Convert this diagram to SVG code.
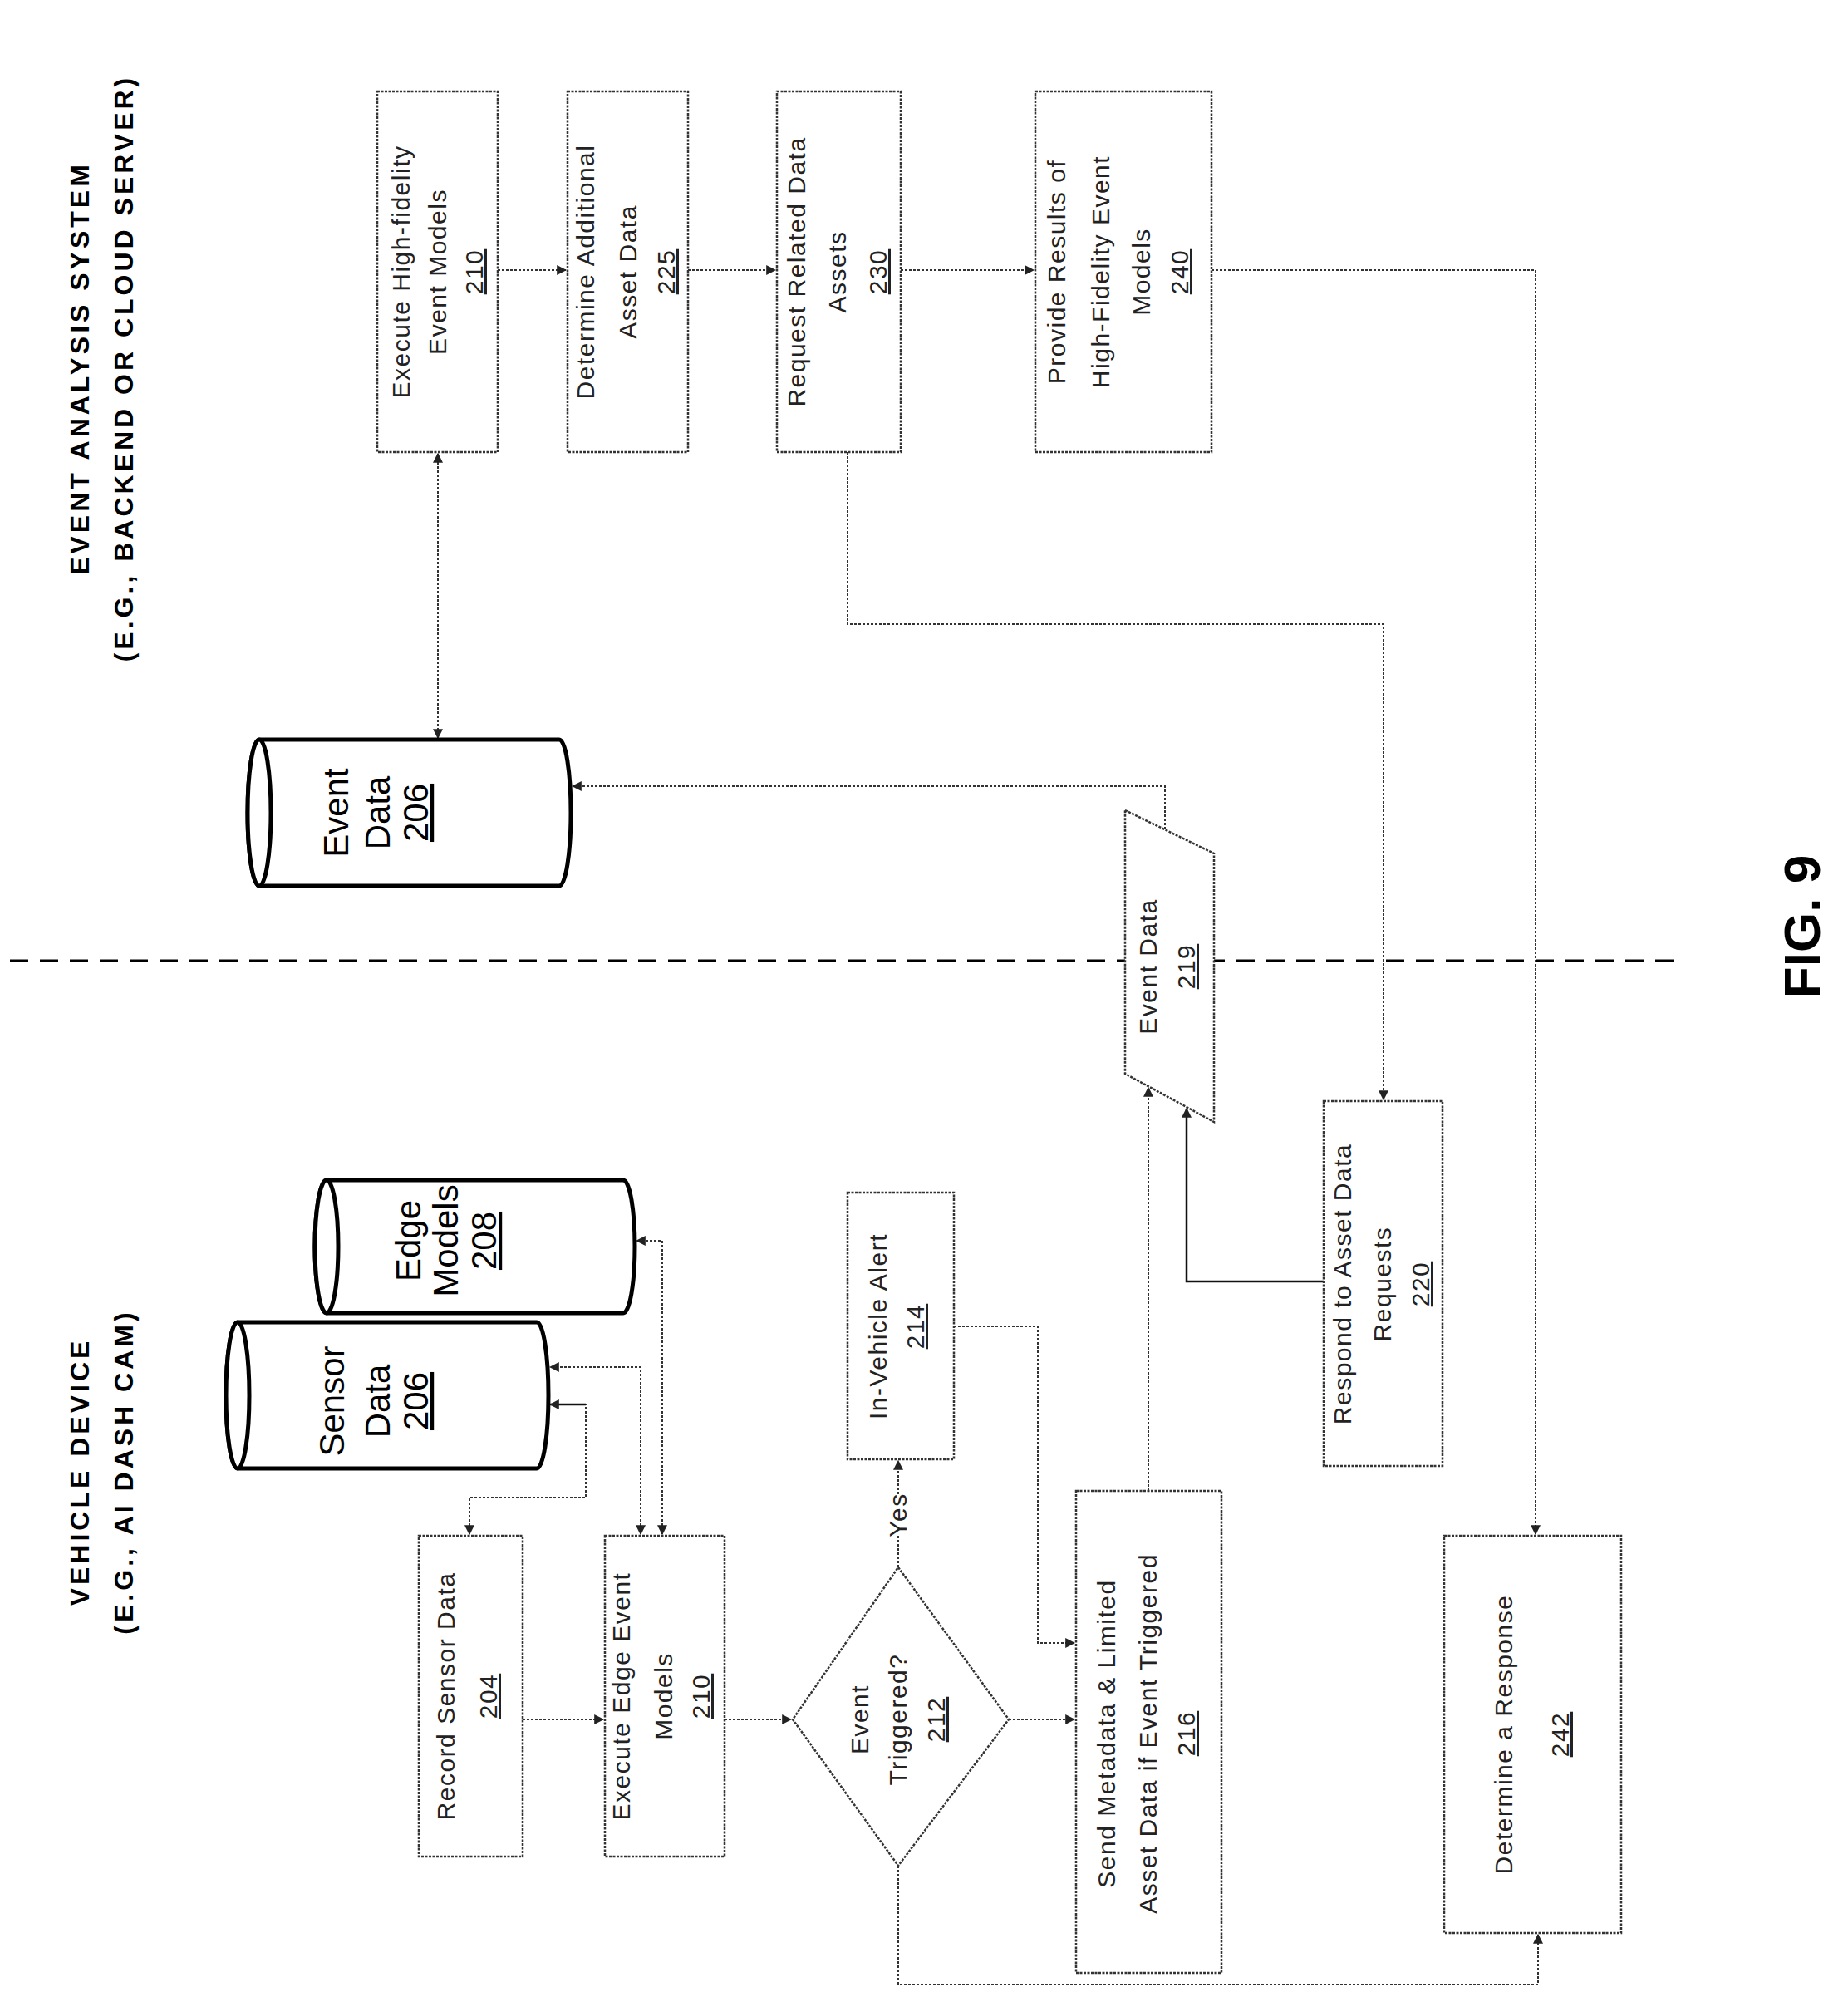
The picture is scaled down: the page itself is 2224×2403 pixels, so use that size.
<svg xmlns="http://www.w3.org/2000/svg" width="2224" height="2403" viewBox="0 0 2224 2403">
<defs>
<style>
.t{font-family:"Liberation Sans",Arial,sans-serif;font-size:30px;letter-spacing:1.5px;text-anchor:middle;fill:#222}
.c{font-family:"Liberation Sans",Arial,sans-serif;font-size:42px;text-anchor:middle;fill:#000}
.h{font-family:"Liberation Sans",Arial,sans-serif;font-weight:bold;font-size:32px;letter-spacing:4px;text-anchor:middle;fill:#000}
.u{text-decoration:underline}
.box{fill:#fff;stroke:#333;stroke-width:2.5;stroke-dasharray:3 1.5}
.cyl{fill:#fff;stroke:#000;stroke-width:5}
.ln{fill:none;stroke:#333;stroke-width:2;stroke-dasharray:3 2}
.sl{fill:none;stroke:#111;stroke-width:2.5}
</style>
<marker id="a" viewBox="0 0 10 10" refX="9" refY="5" markerWidth="12" markerHeight="12" markerUnits="userSpaceOnUse" orient="auto-start-reverse"><path d="M0,0L10,5L0,10Z" fill="#222"/></marker>
</defs>
<rect width="2224" height="2403" fill="#fff"/>
<g id="titles">
<text class="h" transform="translate(107,443) rotate(-90)">EVENT ANALYSIS SYSTEM</text>
<text class="h" transform="translate(160,443) rotate(-90)">(E.G., BACKEND OR CLOUD SERVER)</text>
<text class="h" transform="translate(107,1771) rotate(-90)">VEHICLE DEVICE</text>
<text class="h" transform="translate(160,1771) rotate(-90)">(E.G., AI DASH CAM)</text>
<text font-family="Liberation Sans,Arial,sans-serif" font-weight="bold" font-size="62" text-anchor="middle" transform="translate(2190,1115) rotate(-90)">FIG. 9</text>
</g>
<g id="divider"><line x1="12" y1="1156" x2="2023" y2="1156" stroke="#000" stroke-width="3" stroke-dasharray="22 14"/></g>
<g id="connectors">
<line class="ln" x1="599" y1="325" x2="681" y2="325" marker-end="url(#a)"/>
<line class="ln" x1="828" y1="325" x2="933" y2="325" marker-end="url(#a)"/>
<line class="ln" x1="1084" y1="325" x2="1244" y2="325" marker-end="url(#a)"/>
<line class="ln" x1="527" y1="546" x2="527" y2="888" marker-start="url(#a)" marker-end="url(#a)"/>
<path class="ln" d="M1402,998V946H689" marker-end="url(#a)"/>
<path class="ln" d="M1020,544V751H1665V1323" marker-end="url(#a)"/>
<path class="ln" d="M1458,325H1848V1846" marker-end="url(#a)"/>
<path class="sl" d="M1593,1542H1428V1334" marker-end="url(#a)"/>
<line class="ln" x1="1382" y1="1794" x2="1382" y2="1309" marker-end="url(#a)"/>
<path class="ln" d="M565,1846V1802H705V1690H668" marker-start="url(#a)"/>
<path class="sl" d="M705,1690H662" marker-end="url(#a)"/>
<path class="ln" d="M771,1846V1645H662" marker-start="url(#a)" marker-end="url(#a)"/>
<path class="ln" d="M797,1846V1493H766" marker-start="url(#a)" marker-end="url(#a)"/>
<line class="ln" x1="629" y1="2069" x2="726" y2="2069" marker-end="url(#a)"/>
<line class="ln" x1="872" y1="2069" x2="952" y2="2069" marker-end="url(#a)"/>
<line class="ln" x1="1214" y1="2069" x2="1293" y2="2069" marker-end="url(#a)"/>
<path class="ln" d="M1081,1886V1848M1081,1798V1758" marker-end="url(#a)"/>
<text class="t" transform="translate(1091,1823) rotate(-90)">Yes</text>
<path class="ln" d="M1148,1596H1249V1977H1293" marker-end="url(#a)"/>
<path class="ln" d="M1081,2245V2388H1851V2328" marker-end="url(#a)"/>
</g>
<g id="n210a"><rect class="box" x="454" y="110" width="145" height="434"/>
<text class="t" transform="translate(493,327) rotate(-90)">Execute High-fidelity</text>
<text class="t" transform="translate(537,327) rotate(-90)">Event Models</text>
<text class="t u" transform="translate(581,327) rotate(-90)">210</text></g>
<g id="n225"><rect class="box" x="683" y="110" width="145" height="434"/>
<text class="t" transform="translate(715,327) rotate(-90)">Determine Additional</text>
<text class="t" transform="translate(766,327) rotate(-90)">Asset Data</text>
<text class="t u" transform="translate(812,327) rotate(-90)">225</text></g>
<g id="n230"><rect class="box" x="935" y="110" width="149" height="434"/>
<text class="t" transform="translate(969,327) rotate(-90)">Request Related Data</text>
<text class="t" transform="translate(1018,327) rotate(-90)">Assets</text>
<text class="t u" transform="translate(1067,327) rotate(-90)">230</text></g>
<g id="n240"><rect class="box" x="1246" y="110" width="212" height="434"/>
<text class="t" transform="translate(1282,327) rotate(-90)">Provide Results of</text>
<text class="t" transform="translate(1335,327) rotate(-90)">High-Fidelity Event</text>
<text class="t" transform="translate(1384,327) rotate(-90)">Models</text>
<text class="t u" transform="translate(1430,327) rotate(-90)">240</text></g>
<g id="eventdata206">
<path class="cyl" d="M312,890H673A14,88 0 0 1 673,1066H312A14,88 0 0 1 312,890Z"/>
<ellipse class="cyl" cx="312" cy="978" rx="14" ry="88"/>
<text class="c" transform="translate(419,978) rotate(-90)">Event</text>
<text class="c" transform="translate(469,978) rotate(-90)">Data</text>
<text class="c u" transform="translate(515,978) rotate(-90)">206</text></g>
<g id="n219"><path class="box" d="M1354,975L1461,1027V1350L1354,1292Z"/>
<text class="t" transform="translate(1392,1163) rotate(-90)">Event Data</text>
<text class="t u" transform="translate(1438,1163) rotate(-90)">219</text></g>
<g id="sensor206">
<path class="cyl" d="M286,1591H646A14,88 0 0 1 646,1767H286A14,88 0 0 1 286,1591Z"/>
<ellipse class="cyl" cx="286" cy="1679" rx="14" ry="88"/>
<text class="c" transform="translate(414,1686) rotate(-90)">Sensor</text>
<text class="c" transform="translate(469,1686) rotate(-90)">Data</text>
<text class="c u" transform="translate(515,1686) rotate(-90)">206</text></g>
<g id="edge208">
<path class="cyl" d="M393,1420H750A14,80 0 0 1 750,1580H393A14,80 0 0 1 393,1420Z"/>
<ellipse class="cyl" cx="393" cy="1500" rx="14" ry="80"/>
<text class="c" transform="translate(506,1493) rotate(-90)">Edge</text>
<text class="c" transform="translate(551,1493) rotate(-90)">Models</text>
<text class="c u" transform="translate(597,1493) rotate(-90)">208</text></g>
<g id="n204"><rect class="box" x="504" y="1848" width="125" height="386"/>
<text class="t" transform="translate(547,2041) rotate(-90)">Record Sensor Data</text>
<text class="t u" transform="translate(598,2041) rotate(-90)">204</text></g>
<g id="n210b"><rect class="box" x="728" y="1848" width="144" height="386"/>
<text class="t" transform="translate(758,2041) rotate(-90)">Execute Edge Event</text>
<text class="t" transform="translate(809,2041) rotate(-90)">Models</text>
<text class="t u" transform="translate(854,2041) rotate(-90)">210</text></g>
<g id="n212"><path class="box" d="M1081,1886L1214,2069L1081,2245L954,2069Z"/>
<text class="t" transform="translate(1045,2069) rotate(-90)">Event</text>
<text class="t" transform="translate(1091,2069) rotate(-90)">Triggered?</text>
<text class="t u" transform="translate(1137,2069) rotate(-90)">212</text></g>
<g id="n214"><rect class="box" x="1020" y="1435" width="128" height="321"/>
<text class="t" transform="translate(1067,1596) rotate(-90)">In-Vehicle Alert</text>
<text class="t u" transform="translate(1112,1596) rotate(-90)">214</text></g>
<g id="n216"><rect class="box" x="1295" y="1794" width="175" height="580"/>
<text class="t" transform="translate(1342,2086) rotate(-90)">Send Metadata &amp; Limited</text>
<text class="t" transform="translate(1392,2086) rotate(-90)">Asset Data if Event Triggered</text>
<text class="t u" transform="translate(1438,2086) rotate(-90)">216</text></g>
<g id="n220"><rect class="box" x="1593" y="1325" width="143" height="439"/>
<text class="t" transform="translate(1626,1545) rotate(-90)">Respond to Asset Data</text>
<text class="t" transform="translate(1674,1545) rotate(-90)">Requests</text>
<text class="t u" transform="translate(1720,1545) rotate(-90)">220</text></g>
<g id="n242"><rect class="box" x="1738" y="1848" width="213" height="478"/>
<text class="t" transform="translate(1820,2087) rotate(-90)">Determine a Response</text>
<text class="t u" transform="translate(1888,2087) rotate(-90)">242</text></g>
</svg>
